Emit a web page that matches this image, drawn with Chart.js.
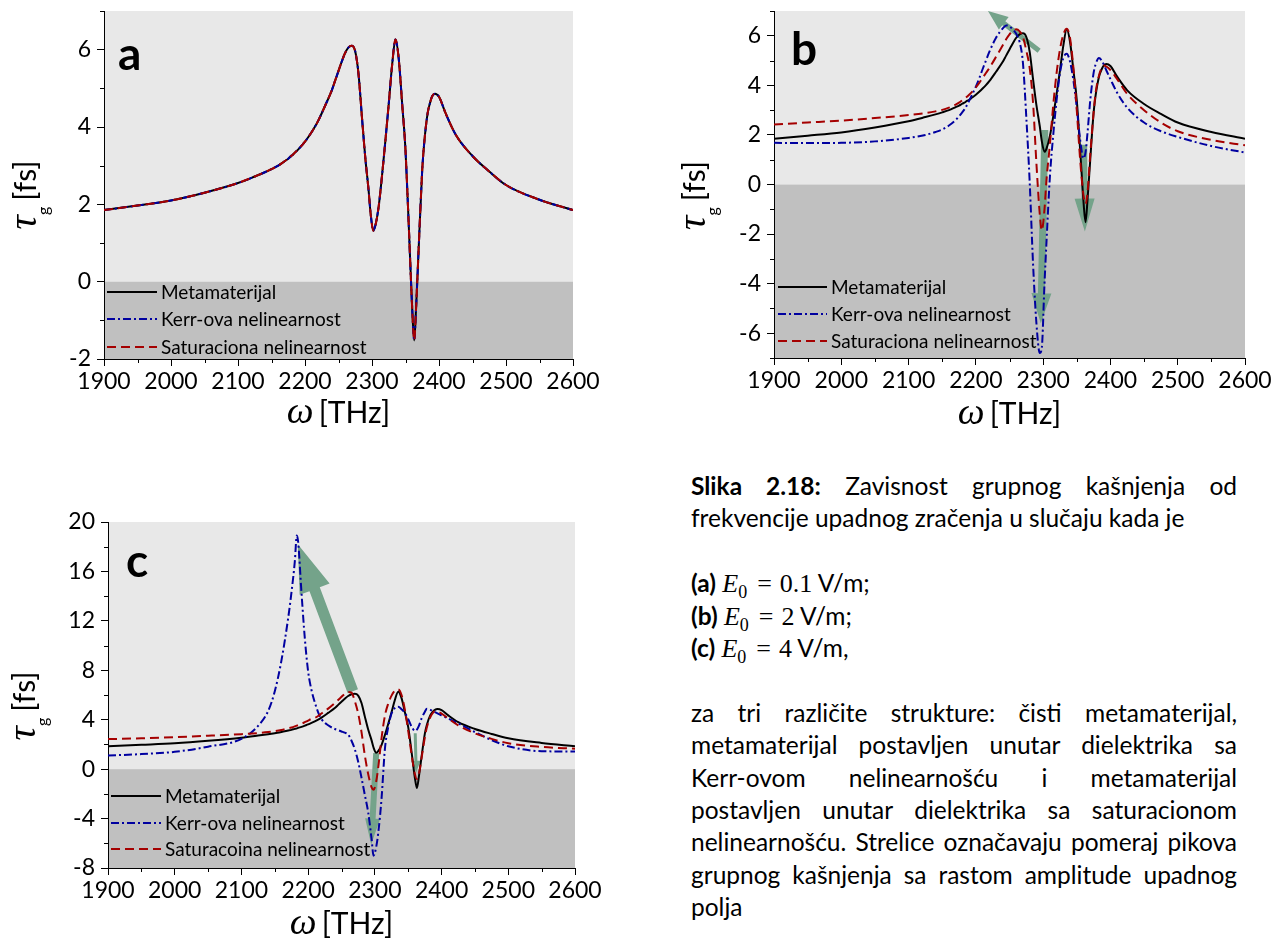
<!DOCTYPE html>
<html><head><meta charset="utf-8">
<script src="https://cdn.jsdelivr.net/npm/chart.js@4.4.1/dist/chart.umd.min.js"></script>
<style>
html,body{margin:0;padding:0;background:#fff}
body{width:1278px;height:939px;position:relative;overflow:hidden}
canvas{position:absolute}
#cap{position:absolute;left:691px;top:470px;width:546px;font-family:Lato,sans-serif;font-size:24.5px;line-height:32.4px;color:#000}
#cap div{height:32.4px;white-space:nowrap}
#cap div.j{white-space:normal}
.j{text-align:justify;text-align-last:justify}
.m{font-family:"Liberation Serif","DejaVu Serif",serif;font-size:26px}
.mi{font-family:"Liberation Serif","DejaVu Serif",serif;font-style:italic;font-size:26px}
.sb{font-family:"Liberation Serif",serif;font-size:18px;position:relative;top:6px}
</style></head>
<body>
<canvas id="cA" width="640" height="460" style="left:0;top:-20px"></canvas>
<canvas id="cB" width="618" height="460" style="left:660px;top:-20px"></canvas>
<canvas id="cC" width="640" height="459" style="left:0;top:480px"></canvas>
<div id="cap">
<div class="j"><b>Slika 2.18:</b> Zavisnost grupnog kašnjenja od</div>
<div>frekvencije upadnog zračenja u slučaju kada je</div>
<div></div>
<div><b>(a)</b> <span class="mi">E</span><span class="sb">0</span><span class="m" style="margin:0 8px 0 10px">=</span><span class="m">0.1</span> V/m;</div>
<div><b>(b)</b> <span class="mi">E</span><span class="sb">0</span><span class="m" style="margin:0 8px 0 10px">=</span><span class="m">2</span> V/m;</div>
<div><b>(c)</b> <span class="mi">E</span><span class="sb">0</span><span class="m" style="margin:0 8px 0 10px">=</span><span class="m">4</span> V/m,</div>
<div></div>
<div class="j">za tri različite strukture: čisti metamaterijal,</div>
<div class="j">metamaterijal postavljen unutar dielektrika sa</div>
<div class="j">Kerr-ovom nelinearnošću i metamaterijal</div>
<div class="j">postavljen unutar dielektrika sa saturacionom</div>
<div class="j">nelinearnošću. Strelice označavaju pomeraj pikova</div>
<div class="j">grupnog kašnjenja sa rastom amplitude upadnog</div>
<div>polja</div>
</div>
<script>
// ---------- data ----------
const omega = [1900,1950,2000,2050,2100,2125,2140,2150,2160,2170,2175,2180,2183,2185,2190,2195,2200,2205,2210,2215,2220,2230,2240,2245,2250,2255,2260,2265,2270,2275,2280,2285,2290,2295,2298,2302,2305,2310,2315,2320,2325,2330,2335,2340,2345,2350,2355,2360,2363,2366,2370,2375,2378,2383,2387,2390,2394,2400,2410,2425,2450,2475,2500,2550,2600];

const metamaterijal = [1.85,1.97,2.10,2.30,2.55,2.72,2.83,2.91,3.00,3.12,3.18,3.26,3.30,3.34,3.42,3.52,3.62,3.74,3.87,4.01,4.17,4.55,4.95,5.20,5.45,5.70,5.92,6.06,6.10,5.95,5.35,4.25,3.20,2.35,1.75,1.32,1.45,1.95,2.75,3.65,4.60,5.60,6.26,5.75,4.60,3.40,1.40,-0.70,-1.52,-0.60,1.00,2.90,3.60,4.35,4.65,4.80,4.86,4.78,4.35,3.80,3.25,2.85,2.50,2.12,1.85];

const kerrA = [1.85,1.97,2.10,2.30,2.55,2.72,2.83,2.91,3.00,3.12,3.18,3.26,3.30,3.34,3.42,3.52,3.62,3.74,3.87,4.01,4.17,4.55,4.95,5.20,5.45,5.70,5.92,6.06,6.10,5.95,5.35,4.25,3.20,2.35,1.75,1.32,1.45,1.95,2.75,3.65,4.60,5.60,6.26,5.75,4.60,3.40,1.40,-0.70,-1.52,-0.60,1.00,2.90,3.60,4.35,4.65,4.80,4.86,4.78,4.35,3.80,3.25,2.85,2.50,2.12,1.85];
const saturacionaA = [1.85,1.97,2.10,2.30,2.55,2.72,2.83,2.91,3.00,3.12,3.18,3.26,3.30,3.34,3.42,3.52,3.62,3.74,3.87,4.01,4.17,4.55,4.95,5.20,5.45,5.70,5.92,6.06,6.10,5.95,5.35,4.25,3.20,2.35,1.75,1.32,1.45,1.95,2.75,3.65,4.60,5.60,6.26,5.75,4.60,3.40,1.40,-0.70,-1.52,-0.60,1.00,2.90,3.60,4.35,4.65,4.80,4.86,4.78,4.35,3.80,3.25,2.85,2.50,2.12,1.85];

const kerrB = [1.68,1.67,1.68,1.74,1.88,2.00,2.12,2.22,2.38,2.60,2.75,2.92,3.03,3.12,3.38,3.66,3.95,4.28,4.65,5.00,5.35,5.92,6.30,6.42,6.38,6.25,6.08,5.75,4.90,2.70,0.10,-3.20,-5.60,-6.80,-6.60,-4.00,-2.30,0.30,2.00,3.40,4.50,5.10,5.28,4.95,4.20,3.10,1.80,1.05,1.30,2.10,3.40,4.50,4.85,5.10,5.00,4.85,4.60,4.25,3.70,3.10,2.50,2.15,1.92,1.55,1.29];
const saturacionaB = [2.42,2.50,2.58,2.68,2.80,2.88,2.95,3.01,3.10,3.22,3.30,3.40,3.46,3.50,3.62,3.76,3.92,4.10,4.30,4.50,4.70,5.15,5.62,5.86,6.06,6.20,6.26,6.18,5.95,5.40,4.70,3.30,0.85,-1.20,-1.85,-1.00,0.20,1.60,3.20,4.50,5.45,6.05,6.28,5.90,4.70,3.00,1.00,-0.45,-0.78,-0.30,1.20,2.90,3.70,4.40,4.70,4.80,4.76,4.62,4.25,3.65,3.00,2.50,2.15,1.80,1.58];

const kerrC = [1.10,1.22,1.40,1.82,2.45,3.50,4.70,6.30,8.80,12.20,14.30,16.80,18.90,18.40,14.30,10.60,7.90,6.40,5.40,4.60,4.05,3.55,3.25,3.15,3.05,2.95,2.80,2.30,1.60,0.60,-0.70,-2.10,-3.50,-5.60,-7.00,-6.30,-5.20,-2.40,1.60,3.40,4.50,4.95,5.05,4.85,4.55,4.05,3.45,3.10,3.20,3.50,4.10,4.65,4.88,4.80,4.70,4.62,4.52,4.35,4.10,3.70,3.00,2.35,1.85,1.45,1.43];
const saturacionaC = [2.43,2.50,2.59,2.70,2.83,2.92,3.00,3.07,3.17,3.30,3.37,3.46,3.52,3.56,3.67,3.80,3.93,4.07,4.15,4.30,4.50,4.90,5.35,5.60,5.85,6.10,6.25,6.20,5.50,4.50,3.00,1.10,-0.40,-1.45,-1.67,-1.00,0.10,2.50,4.30,5.30,5.95,6.35,6.45,6.00,4.80,3.10,1.20,-0.40,-0.80,-0.40,0.90,2.60,3.40,4.20,4.55,4.68,4.65,4.50,4.10,3.55,2.90,2.45,2.10,1.80,1.65];

const legendAB = ['Metamaterijal','Kerr-ova nelinearnost','Saturaciona nelinearnost'];
const legendC = ['Metamaterijal','Kerr-ova nelinearnost','Saturacoina nelinearnost'];

const xTicks = [1900,2000,2100,2200,2300,2400,2500,2600];
const xMinor = [1950,2050,2150,2250,2350,2450,2550];
const yTicksA = [-2,0,2,4,6];
const yMinorA = [-1,1,3,5,7];
const yTicksB = [-6,-4,-2,0,2,4,6];
const yMinorB = [-7,-5,-3,-1,1,3,5,7];
const yTicksC = [-8,-4,0,4,8,12,16,20];
const yMinorC = [-6,-2,2,6,10,14,18];

// arrows: [omega start, tau start, omega end, tau end]
const arrowsB = [[2294,5.4,2218,7.0],[2302.5,2.2,2296.5,-5.6],[2361,1.6,2362,-1.9]];
const arrowsC = [[2267,6.3,2184.5,18.2],[2302,1.3,2294.5,-6.1],[2360.5,2.9,2362,-0.3]];

// ---------- drawing ----------
const COL = {meta:'#000000', kerr:'#0000a0', sat:'#a50000', arrow:'#74a38a'};
const DASH = {meta:[], kerr:[8,3,2,3], sat:[9,5]};

const decor = {
  id: 'decor',
  beforeDraw(chart, args, o) {
    const {ctx, chartArea: a} = chart; const y = chart.scales.y;
    const y0 = y.getPixelForValue(0);
    ctx.save();
    ctx.fillStyle = '#e8e8e8'; ctx.fillRect(a.left, a.top, a.right - a.left, y0 - a.top);
    ctx.fillStyle = '#c0c0c0'; ctx.fillRect(a.left, y0, a.right - a.left, a.bottom - y0);
    ctx.restore();
  },
  beforeDatasetsDraw(chart, args, o) {
    const {ctx} = chart; const x = chart.scales.x, y = chart.scales.y;
    ctx.save();
    ctx.fillStyle = COL.arrow;
    (o.arrows || []).forEach((ar, i) => {
      const [sw, hw, hl] = o.arrowSizes[i];
      const x1 = x.getPixelForValue(ar[0]), y1 = y.getPixelForValue(ar[1]);
      const x2 = x.getPixelForValue(ar[2]), y2 = y.getPixelForValue(ar[3]);
      const dx = x2 - x1, dy = y2 - y1, L = Math.hypot(dx, dy);
      const ux = dx / L, uy = dy / L, nx = -uy, ny = ux;
      const bx = x2 - ux * hl, by = y2 - uy * hl;
      ctx.beginPath();
      ctx.moveTo(x1 + nx * sw / 2, y1 + ny * sw / 2);
      ctx.lineTo(bx + nx * sw / 2, by + ny * sw / 2);
      ctx.lineTo(bx + nx * hw / 2, by + ny * hw / 2);
      ctx.lineTo(x2, y2);
      ctx.lineTo(bx - nx * hw / 2, by - ny * hw / 2);
      ctx.lineTo(bx - nx * sw / 2, by - ny * sw / 2);
      ctx.lineTo(x1 - nx * sw / 2, y1 - ny * sw / 2);
      ctx.closePath(); ctx.fill();
    });
    ctx.restore();
  },
  afterDraw(chart, args, o) {
    const {ctx, chartArea: a} = chart; const x = chart.scales.x, y = chart.scales.y;
    ctx.save();
    // minor ticks
    ctx.strokeStyle = '#000'; ctx.lineWidth = 1; ctx.setLineDash([]);
    ctx.beginPath();
    o.minorX.forEach(v => { const px = Math.round(x.getPixelForValue(v)) + 0.5; ctx.moveTo(px, a.bottom); ctx.lineTo(px, a.bottom + 4); });
    o.minorY.forEach(v => { const py = Math.round(y.getPixelForValue(v)) + 0.5; ctx.moveTo(a.left, py); ctx.lineTo(a.left - 4, py); });
    ctx.stroke();
    // legend
    const ds = chart.data.datasets.slice().reverse();
    ctx.font = '19px Lato'; ctx.textBaseline = 'middle'; ctx.textAlign = 'left';
    ds.forEach((d, i) => {
      const yy = a.bottom - o.legRows[i];
      ctx.strokeStyle = d.borderColor; ctx.lineWidth = 2; ctx.setLineDash(d.borderDash || []);
      ctx.beginPath(); ctx.moveTo(a.left + o.legX0, yy); ctx.lineTo(a.left + o.legX1, yy); ctx.stroke();
      ctx.fillStyle = '#000'; ctx.fillText(d.label, a.left + o.legTx, yy + 1);
    });
    ctx.setLineDash([]);
    // panel letter
    ctx.font = 'bold 46px Lato'; ctx.textBaseline = 'alphabetic'; ctx.fillStyle = '#000';
    ctx.fillText(o.letter, a.left + o.letterX, a.top + o.letterY);
    // x title
    const fo = 'italic 38px "Liberation Serif"', fu = '30px Lato';
    ctx.font = fo; const w1 = ctx.measureText('\u03c9').width;
    ctx.font = fu; const w2 = ctx.measureText('[THz]').width;
    const gap = 5, cx = (a.left + a.right) / 2, by = a.bottom + o.xTitleDy;
    let sx = cx - (w1 + gap + w2) / 2;
    ctx.font = fo; ctx.fillText('\u03c9', sx, by);
    ctx.font = fu; ctx.fillText('[THz]', sx + w1 + gap, by);
    // y title (rotated)
    ctx.save();
    ctx.translate(a.left + o.yTitleDx, (a.top + a.bottom) / 2 + o.yTitleDy);
    ctx.rotate(-Math.PI / 2);
    const ft = 'italic 40px "Liberation Serif"', fg = '16px Lato';
    ctx.font = ft; const t1 = ctx.measureText('\u03c4').width;
    ctx.font = fg; const t2 = ctx.measureText('g').width;
    ctx.font = fu; const t3 = ctx.measureText('[fs]').width;
    const g2 = 6, tot = t1 + t2 + g2 + t3;
    let tx = -tot / 2;
    ctx.font = ft; ctx.fillText('\u03c4', tx, 0);
    ctx.font = fg; ctx.fillText('g', tx + t1, 13);
    ctx.font = fu; ctx.fillText('[fs]', tx + t1 + t2 + g2, 0);
    ctx.restore();
    ctx.restore();
  }
};

function build(id, p) {
  const series = [
    {label: p.legend[2], values: p.sat, color: COL.sat, dash: DASH.sat},
    {label: p.legend[1], values: p.kerr, color: COL.kerr, dash: DASH.kerr},
    {label: p.legend[0], values: p.meta, color: COL.meta, dash: DASH.meta}
  ];
  return new Chart(document.getElementById(id), {
    type: 'line',
    data: {datasets: series.map(s => ({
      label: s.label,
      data: omega.map((w, i) => ({x: w, y: s.values[i]})),
      borderColor: s.color, borderWidth: 2, borderDash: s.dash,
      pointRadius: 0, cubicInterpolationMode: 'monotone', fill: false
    }))},
    options: {
      responsive: false, animation: false, events: [],
      layout: {padding: p.padding},
      plugins: {legend: {display: false}, tooltip: {enabled: false}, decor: p.decor},
      scales: {
        x: {type: 'linear', min: 1900, max: 2600,
          afterBuildTicks: s => { s.ticks = xTicks.map(v => ({value: v})); },
          afterFit: s => { s.height = p.xH; },
          grid: {drawOnChartArea: false, drawTicks: true, tickLength: 7, color: '#000', tickColor: '#000'},
          border: {display: true, color: '#000', width: 1},
          ticks: {font: {family: 'Lato', size: 23}, color: '#000', padding: 2, maxRotation: 0, autoSkip: false,
            callback: v => String(v)}},
        y: {type: 'linear', min: p.yMin, max: p.yMax,
          afterBuildTicks: s => { s.ticks = p.yTicks.map(v => ({value: v})); },
          afterFit: s => { s.width = p.yW; },
          grid: {drawOnChartArea: false, drawTicks: true, tickLength: 7, color: '#000', tickColor: '#000'},
          border: {display: true, color: '#000', width: 1},
          ticks: {font: {family: 'Lato', size: 23}, color: '#000', padding: 6, callback: v => String(v)}}
      }
    },
    plugins: [decor]
  });
}

build('cA', {meta: metamaterijal, kerr: kerrA, sat: saturacionaA, legend: legendAB,
  yMin: -2, yMax: 7, yTicks: yTicksA, yW: 104, xH: 81,
  padding: {left: 0, top: 31, right: 67, bottom: 0},
  decor: {minorX: xMinor, minorY: yMinorA, legRows: [67, 40, 12], legX0: 3, legX1: 53, legTx: 57,
    letter: 'a', letterX: 14, letterY: 59, xTitleDy: 64, yTitleDx: -68, yTitleDy: 10}});

build('cB', {meta: metamaterijal, kerr: kerrB, sat: saturacionaB, legend: legendAB,
  yMin: -7, yMax: 7, yTicks: yTicksB, yW: 114, xH: 82,
  padding: {left: 0, top: 31, right: 33, bottom: 0},
  decor: {minorX: xMinor, minorY: yMinorB, legRows: [71, 44, 17], legX0: 4, legX1: 53, legTx: 57,
    letter: 'b', letterX: 17, letterY: 54, xTitleDy: 66, yTitleDx: -69, yTitleDy: 11,
    arrows: arrowsB, arrowSizes: [[5, 16, 20], [7, 20, 30], [6, 20, 33]]}});

build('cC', {meta: metamaterijal, kerr: kerrC, sat: saturacionaC, legend: legendC,
  yMin: -8, yMax: 20, yTicks: yTicksC, yW: 108, xH: 71,
  padding: {left: 0, top: 42, right: 65, bottom: 0},
  decor: {minorX: xMinor, minorY: yMinorC, legRows: [72, 45, 19], legX0: 3, legX1: 53, legTx: 57,
    letter: 'c', letterX: 18, letterY: 55, xTitleDy: 66, yTitleDx: -73, yTitleDy: 11,
    arrows: arrowsC, arrowSizes: [[11, 32, 48], [6, 15, 26], [3, 9, 12]]}});
</script>
</body></html>
